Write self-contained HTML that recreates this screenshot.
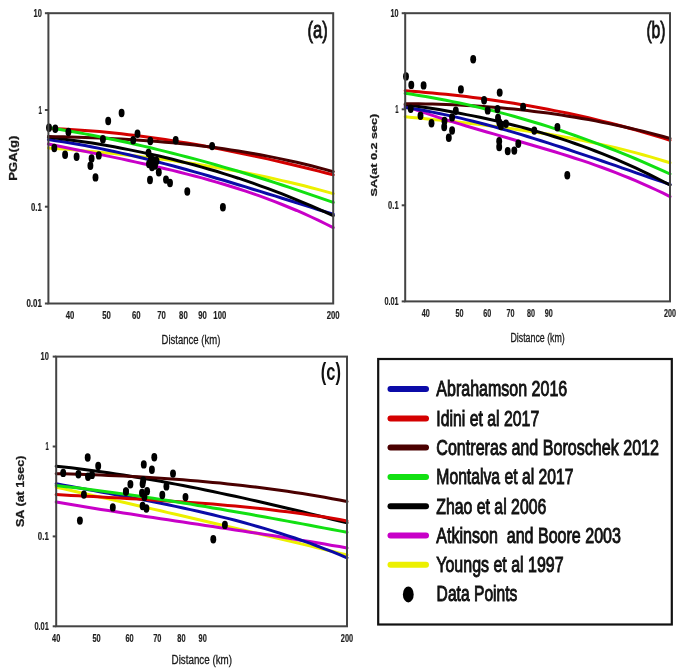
<!DOCTYPE html>
<html><head><meta charset="utf-8"><style>
html,body{margin:0;padding:0;background:#fff;width:685px;height:672px;overflow:hidden;font-family:"Liberation Sans", sans-serif;}
</style></head><body>
<svg width="685" height="672" viewBox="0 0 685 672" style="position:absolute;left:0;top:0;filter:blur(0.4px)" font-family='"Liberation Sans", sans-serif'>
<rect width="685" height="672" fill="#ffffff"/>
<g stroke="#eaf4f6" stroke-width="1" fill="none" opacity="0.9">
</g>
<g fill="none" stroke-width="3" stroke-linecap="round">
<path d="M48.4,148.0 L55.7,148.5 L63.0,149.1 L70.3,149.6 L77.6,150.2 L84.9,150.9 L92.2,151.5 L99.5,152.2 L106.8,152.9 L114.1,153.6 L121.4,154.4 L128.7,155.2 L136.0,156.0 L143.3,156.9 L150.6,157.7 L157.9,158.7 L165.2,159.6 L172.5,160.6 L179.8,161.7 L187.1,162.7 L194.5,163.8 L201.8,165.0 L209.1,166.2 L216.4,167.4 L223.7,168.7 L231.0,170.0 L238.3,171.4 L245.6,172.8 L252.9,174.2 L260.2,175.7 L267.5,177.3 L274.8,178.9 L282.1,180.6 L289.4,182.3 L296.7,184.0 L304.0,185.8 L311.3,187.7 L318.6,189.6 L325.9,191.6 L333.2,193.6" stroke="#ecf000"/>
<path d="M48.4,144.0 L55.7,145.5 L63.0,147.0 L70.3,148.5 L77.6,150.0 L84.9,151.4 L92.2,152.9 L99.5,154.4 L106.8,155.9 L114.1,157.4 L121.4,158.9 L128.7,160.5 L136.0,162.1 L143.3,163.7 L150.6,165.3 L157.9,167.0 L165.2,168.7 L172.5,170.4 L179.8,172.2 L187.1,174.1 L194.5,176.0 L201.8,177.9 L209.1,180.0 L216.4,182.1 L223.7,184.2 L231.0,186.5 L238.3,188.8 L245.6,191.2 L252.9,193.6 L260.2,196.2 L267.5,198.9 L274.8,201.6 L282.1,204.5 L289.4,207.5 L296.7,210.5 L304.0,213.7 L311.3,217.0 L318.6,220.4 L325.9,224.0 L333.2,227.6" stroke="#c800c8"/>
<path d="M48.4,139.6 L55.7,140.7 L63.0,141.8 L70.3,143.0 L77.6,144.3 L84.9,145.6 L92.2,147.0 L99.5,148.4 L106.8,150.0 L114.1,151.5 L121.4,153.1 L128.7,154.8 L136.0,156.5 L143.3,158.3 L150.6,160.1 L157.9,162.0 L165.2,163.9 L172.5,165.8 L179.8,167.8 L187.1,169.8 L194.5,171.9 L201.8,173.9 L209.1,176.0 L216.4,178.2 L223.7,180.3 L231.0,182.5 L238.3,184.7 L245.6,186.9 L252.9,189.2 L260.2,191.4 L267.5,193.7 L274.8,195.9 L282.1,198.2 L289.4,200.5 L296.7,202.8 L304.0,205.1 L311.3,207.4 L318.6,209.7 L325.9,211.9 L333.2,214.2" stroke="#0b0ba8"/>
<path d="M48.4,137.1 L55.7,138.0 L63.0,138.9 L70.3,139.9 L77.6,140.9 L84.9,142.0 L92.2,143.1 L99.5,144.3 L106.8,145.5 L114.1,146.8 L121.4,148.2 L128.7,149.6 L136.0,151.1 L143.3,152.6 L150.6,154.2 L157.9,155.8 L165.2,157.5 L172.5,159.3 L179.8,161.2 L187.1,163.1 L194.5,165.0 L201.8,167.1 L209.1,169.2 L216.4,171.3 L223.7,173.6 L231.0,175.9 L238.3,178.2 L245.6,180.7 L252.9,183.2 L260.2,185.8 L267.5,188.4 L274.8,191.1 L282.1,193.9 L289.4,196.8 L296.7,199.8 L304.0,202.8 L311.3,205.9 L318.6,209.1 L325.9,212.3 L333.2,215.7" stroke="#000000"/>
<path d="M48.4,128.4 L55.7,128.7 L63.0,129.0 L70.3,129.4 L77.6,129.9 L84.9,130.4 L92.2,131.0 L99.5,131.6 L106.8,132.3 L114.1,133.1 L121.4,133.8 L128.7,134.7 L136.0,135.6 L143.3,136.5 L150.6,137.5 L157.9,138.5 L165.2,139.6 L172.5,140.7 L179.8,141.9 L187.1,143.1 L194.5,144.3 L201.8,145.6 L209.1,147.0 L216.4,148.3 L223.7,149.7 L231.0,151.2 L238.3,152.7 L245.6,154.2 L252.9,155.7 L260.2,157.3 L267.5,158.9 L274.8,160.6 L282.1,162.3 L289.4,164.0 L296.7,165.7 L304.0,167.5 L311.3,169.3 L318.6,171.1 L325.9,173.0 L333.2,174.9" stroke="#d40000"/>
<path d="M48.4,136.5 L55.7,136.7 L63.0,136.8 L70.3,137.0 L77.6,137.2 L84.9,137.5 L92.2,137.7 L99.5,138.0 L106.8,138.3 L114.1,138.7 L121.4,139.1 L128.7,139.5 L136.0,140.0 L143.3,140.5 L150.6,141.0 L157.9,141.6 L165.2,142.2 L172.5,142.8 L179.8,143.5 L187.1,144.3 L194.5,145.1 L201.8,145.9 L209.1,146.8 L216.4,147.8 L223.7,148.8 L231.0,149.9 L238.3,151.0 L245.6,152.2 L252.9,153.4 L260.2,154.7 L267.5,156.1 L274.8,157.6 L282.1,159.1 L289.4,160.7 L296.7,162.3 L304.0,164.0 L311.3,165.8 L318.6,167.7 L325.9,169.6 L333.2,171.7" stroke="#4a0000"/>
<path d="M48.4,127.6 L55.7,128.7 L63.0,130.0 L70.3,131.2 L77.6,132.5 L84.9,133.9 L92.2,135.3 L99.5,136.7 L106.8,138.2 L114.1,139.7 L121.4,141.2 L128.7,142.8 L136.0,144.5 L143.3,146.1 L150.6,147.8 L157.9,149.6 L165.2,151.4 L172.5,153.2 L179.8,155.1 L187.1,157.0 L194.5,158.9 L201.8,160.9 L209.1,162.9 L216.4,165.0 L223.7,167.1 L231.0,169.2 L238.3,171.3 L245.6,173.5 L252.9,175.8 L260.2,178.0 L267.5,180.3 L274.8,182.6 L282.1,185.0 L289.4,187.4 L296.7,189.8 L304.0,192.3 L311.3,194.8 L318.6,197.3 L325.9,199.8 L333.2,202.4" stroke="#12e012"/>
</g>
<g fill="#000">
<ellipse cx="49" cy="127.8" rx="2.95" ry="4.2"/>
<ellipse cx="55.3" cy="128.7" rx="2.95" ry="4.2"/>
<ellipse cx="68.4" cy="132" rx="2.95" ry="4.2"/>
<ellipse cx="54.3" cy="148" rx="2.95" ry="4.2"/>
<ellipse cx="65.1" cy="154.8" rx="2.95" ry="4.2"/>
<ellipse cx="76.6" cy="156.7" rx="2.95" ry="4.2"/>
<ellipse cx="91.6" cy="158.4" rx="2.95" ry="4.2"/>
<ellipse cx="90.4" cy="165.8" rx="2.95" ry="4.2"/>
<ellipse cx="98.8" cy="155.4" rx="2.95" ry="4.2"/>
<ellipse cx="95.5" cy="177.4" rx="2.95" ry="4.2"/>
<ellipse cx="102.9" cy="139.3" rx="2.95" ry="4.2"/>
<ellipse cx="108.2" cy="121" rx="2.95" ry="4.2"/>
<ellipse cx="121.6" cy="113" rx="2.95" ry="4.2"/>
<ellipse cx="133.2" cy="140.2" rx="2.95" ry="4.2"/>
<ellipse cx="137.5" cy="133.8" rx="2.95" ry="4.2"/>
<ellipse cx="150.3" cy="141" rx="2.95" ry="4.2"/>
<ellipse cx="175.7" cy="140.3" rx="2.95" ry="4.2"/>
<ellipse cx="148.5" cy="153" rx="2.95" ry="4.2"/>
<ellipse cx="151" cy="158" rx="2.95" ry="4.2"/>
<ellipse cx="149" cy="164" rx="2.95" ry="4.2"/>
<ellipse cx="153" cy="160.5" rx="2.95" ry="4.2"/>
<ellipse cx="156.5" cy="161" rx="2.95" ry="4.2"/>
<ellipse cx="152" cy="167" rx="2.95" ry="4.2"/>
<ellipse cx="155" cy="165.5" rx="2.95" ry="4.2"/>
<ellipse cx="158.8" cy="172.2" rx="2.95" ry="4.2"/>
<ellipse cx="150" cy="180" rx="2.95" ry="4.2"/>
<ellipse cx="166" cy="179.6" rx="2.95" ry="4.2"/>
<ellipse cx="170" cy="183" rx="2.95" ry="4.2"/>
<ellipse cx="187.3" cy="191.5" rx="2.95" ry="4.2"/>
<ellipse cx="212.1" cy="146.1" rx="2.95" ry="4.2"/>
<ellipse cx="222.9" cy="207.2" rx="2.95" ry="4.2"/>
</g>
<rect x="48.4" y="13.2" width="284.8" height="290.3" fill="none" stroke="#444" stroke-width="2"/>
<line x1="44.9" y1="13.2" x2="48.4" y2="13.2" stroke="#444" stroke-width="2"/>
<line x1="44.9" y1="110.0" x2="48.4" y2="110.0" stroke="#444" stroke-width="2"/>
<line x1="44.9" y1="206.7" x2="48.4" y2="206.7" stroke="#444" stroke-width="2"/>
<line x1="44.9" y1="303.5" x2="48.4" y2="303.5" stroke="#444" stroke-width="2"/>
<g fill="none" stroke-width="3" stroke-linecap="round">
<path d="M405.2,116.7 L412.0,117.4 L418.8,118.1 L425.6,118.7 L432.4,119.4 L439.1,120.1 L445.9,120.8 L452.7,121.5 L459.5,122.3 L466.3,123.0 L473.1,123.8 L479.9,124.6 L486.7,125.4 L493.5,126.2 L500.3,127.1 L507.0,128.0 L513.8,128.9 L520.6,129.9 L527.4,130.9 L534.2,131.9 L541.0,133.0 L547.8,134.1 L554.6,135.2 L561.4,136.4 L568.2,137.7 L574.9,139.0 L581.7,140.3 L588.5,141.7 L595.3,143.1 L602.1,144.6 L608.9,146.1 L615.7,147.7 L622.5,149.4 L629.3,151.1 L636.1,152.9 L642.8,154.7 L649.6,156.6 L656.4,158.6 L663.2,160.7 L670.0,162.8" stroke="#ecf000"/>
<path d="M405.2,106.0 L412.0,108.4 L418.8,110.8 L425.6,113.1 L432.4,115.4 L439.1,117.6 L445.9,119.8 L452.7,121.9 L459.5,123.9 L466.3,126.0 L473.1,128.0 L479.9,130.0 L486.7,132.0 L493.5,133.9 L500.3,135.9 L507.0,137.8 L513.8,139.8 L520.6,141.7 L527.4,143.7 L534.2,145.7 L541.0,147.7 L547.8,149.7 L554.6,151.8 L561.4,153.9 L568.2,156.0 L574.9,158.2 L581.7,160.4 L588.5,162.7 L595.3,165.1 L602.1,167.5 L608.9,170.0 L615.7,172.6 L622.5,175.3 L629.3,178.0 L636.1,180.8 L642.8,183.8 L649.6,186.8 L656.4,190.0 L663.2,193.2 L670.0,196.6" stroke="#c800c8"/>
<path d="M405.2,107.4 L412.0,108.4 L418.8,109.6 L425.6,110.8 L432.4,112.1 L439.1,113.5 L445.9,114.9 L452.7,116.4 L459.5,117.9 L466.3,119.6 L473.1,121.2 L479.9,123.0 L486.7,124.8 L493.5,126.6 L500.3,128.5 L507.0,130.4 L513.8,132.4 L520.6,134.4 L527.4,136.5 L534.2,138.6 L541.0,140.7 L547.8,142.9 L554.6,145.1 L561.4,147.3 L568.2,149.5 L574.9,151.8 L581.7,154.1 L588.5,156.4 L595.3,158.7 L602.1,161.0 L608.9,163.4 L615.7,165.7 L622.5,168.1 L629.3,170.4 L636.1,172.8 L642.8,175.1 L649.6,177.5 L656.4,179.8 L663.2,182.1 L670.0,184.5" stroke="#0b0ba8"/>
<path d="M405.2,104.5 L412.0,105.5 L418.8,106.4 L425.6,107.5 L432.4,108.5 L439.1,109.6 L445.9,110.8 L452.7,112.0 L459.5,113.3 L466.3,114.6 L473.1,115.9 L479.9,117.3 L486.7,118.8 L493.5,120.3 L500.3,121.9 L507.0,123.5 L513.8,125.2 L520.6,126.9 L527.4,128.8 L534.2,130.7 L541.0,132.6 L547.8,134.6 L554.6,136.8 L561.4,138.9 L568.2,141.2 L574.9,143.5 L581.7,145.9 L588.5,148.4 L595.3,151.0 L602.1,153.6 L608.9,156.3 L615.7,159.2 L622.5,162.1 L629.3,165.1 L636.1,168.2 L642.8,171.3 L649.6,174.6 L656.4,178.0 L663.2,181.5 L670.0,185.0" stroke="#000000"/>
<path d="M405.2,90.7 L412.0,91.3 L418.8,91.8 L425.6,92.4 L432.4,93.0 L439.1,93.7 L445.9,94.3 L452.7,95.1 L459.5,95.8 L466.3,96.6 L473.1,97.4 L479.9,98.3 L486.7,99.2 L493.5,100.2 L500.3,101.2 L507.0,102.2 L513.8,103.3 L520.6,104.4 L527.4,105.5 L534.2,106.7 L541.0,107.9 L547.8,109.2 L554.6,110.6 L561.4,111.9 L568.2,113.3 L574.9,114.8 L581.7,116.3 L588.5,117.8 L595.3,119.4 L602.1,121.1 L608.9,122.8 L615.7,124.5 L622.5,126.3 L629.3,128.2 L636.1,130.0 L642.8,132.0 L649.6,134.0 L656.4,136.0 L663.2,138.1 L670.0,140.3" stroke="#d40000"/>
<path d="M405.2,103.7 L412.0,103.7 L418.8,103.8 L425.6,103.9 L432.4,104.0 L439.1,104.2 L445.9,104.4 L452.7,104.7 L459.5,105.0 L466.3,105.4 L473.1,105.8 L479.9,106.2 L486.7,106.7 L493.5,107.2 L500.3,107.8 L507.0,108.4 L513.8,109.1 L520.6,109.8 L527.4,110.6 L534.2,111.4 L541.0,112.2 L547.8,113.1 L554.6,114.1 L561.4,115.1 L568.2,116.2 L574.9,117.3 L581.7,118.4 L588.5,119.6 L595.3,120.9 L602.1,122.2 L608.9,123.6 L615.7,125.0 L622.5,126.5 L629.3,128.0 L636.1,129.6 L642.8,131.2 L649.6,132.9 L656.4,134.7 L663.2,136.5 L670.0,138.4" stroke="#4a0000"/>
<path d="M405.2,93.3 L412.0,94.3 L418.8,95.4 L425.6,96.5 L432.4,97.7 L439.1,98.9 L445.9,100.2 L452.7,101.6 L459.5,103.0 L466.3,104.4 L473.1,106.0 L479.9,107.6 L486.7,109.2 L493.5,110.9 L500.3,112.6 L507.0,114.4 L513.8,116.3 L520.6,118.2 L527.4,120.2 L534.2,122.2 L541.0,124.3 L547.8,126.4 L554.6,128.6 L561.4,130.8 L568.2,133.1 L574.9,135.5 L581.7,137.9 L588.5,140.3 L595.3,142.8 L602.1,145.4 L608.9,148.0 L615.7,150.7 L622.5,153.4 L629.3,156.2 L636.1,159.0 L642.8,161.9 L649.6,164.9 L656.4,167.9 L663.2,170.9 L670.0,174.0" stroke="#12e012"/>
</g>
<g fill="#000">
<ellipse cx="406" cy="76.4" rx="2.95" ry="4.2"/>
<ellipse cx="411.3" cy="84.9" rx="2.95" ry="4.2"/>
<ellipse cx="423.6" cy="85.4" rx="2.95" ry="4.2"/>
<ellipse cx="473.2" cy="59.2" rx="2.95" ry="4.2"/>
<ellipse cx="460.9" cy="89.4" rx="2.95" ry="4.2"/>
<ellipse cx="410.7" cy="108.7" rx="2.95" ry="4.2"/>
<ellipse cx="420.5" cy="115.8" rx="2.95" ry="4.2"/>
<ellipse cx="431.5" cy="123.2" rx="2.95" ry="4.2"/>
<ellipse cx="444.5" cy="121" rx="2.95" ry="4.2"/>
<ellipse cx="444.2" cy="127" rx="2.95" ry="4.2"/>
<ellipse cx="448.8" cy="137.8" rx="2.95" ry="4.2"/>
<ellipse cx="452.1" cy="130.5" rx="2.95" ry="4.2"/>
<ellipse cx="452.1" cy="117.4" rx="2.95" ry="4.2"/>
<ellipse cx="455.8" cy="110.7" rx="2.95" ry="4.2"/>
<ellipse cx="484.1" cy="100.2" rx="2.95" ry="4.2"/>
<ellipse cx="487.7" cy="110.4" rx="2.95" ry="4.2"/>
<ellipse cx="497.5" cy="109.1" rx="2.95" ry="4.2"/>
<ellipse cx="498" cy="118" rx="2.95" ry="4.2"/>
<ellipse cx="499.3" cy="122.5" rx="2.95" ry="4.2"/>
<ellipse cx="501" cy="126" rx="2.95" ry="4.2"/>
<ellipse cx="506" cy="123.8" rx="2.95" ry="4.2"/>
<ellipse cx="499.7" cy="92.6" rx="2.95" ry="4.2"/>
<ellipse cx="499.2" cy="141.2" rx="2.95" ry="4.2"/>
<ellipse cx="499.2" cy="147" rx="2.95" ry="4.2"/>
<ellipse cx="507.7" cy="151.1" rx="2.95" ry="4.2"/>
<ellipse cx="514.3" cy="150.6" rx="2.95" ry="4.2"/>
<ellipse cx="518.3" cy="143.7" rx="2.95" ry="4.2"/>
<ellipse cx="523.1" cy="106.9" rx="2.95" ry="4.2"/>
<ellipse cx="534.3" cy="130.6" rx="2.95" ry="4.2"/>
<ellipse cx="557.4" cy="127.2" rx="2.95" ry="4.2"/>
<ellipse cx="567.3" cy="175.2" rx="2.95" ry="4.2"/>
</g>
<rect x="405.2" y="13.2" width="264.8" height="288.2" fill="none" stroke="#444" stroke-width="2"/>
<line x1="401.7" y1="13.2" x2="405.2" y2="13.2" stroke="#444" stroke-width="2"/>
<line x1="401.7" y1="109.3" x2="405.2" y2="109.3" stroke="#444" stroke-width="2"/>
<line x1="401.7" y1="205.3" x2="405.2" y2="205.3" stroke="#444" stroke-width="2"/>
<line x1="401.7" y1="301.4" x2="405.2" y2="301.4" stroke="#444" stroke-width="2"/>
<g fill="none" stroke-width="3" stroke-linecap="round">
<path d="M56.2,487.2 L63.7,488.9 L71.1,490.5 L78.6,492.2 L86.0,493.9 L93.5,495.6 L100.9,497.2 L108.4,498.9 L115.9,500.6 L123.3,502.3 L130.8,504.0 L138.2,505.7 L145.7,507.4 L153.1,509.1 L160.6,510.8 L168.0,512.6 L175.5,514.3 L183.0,516.0 L190.4,517.7 L197.9,519.5 L205.3,521.2 L212.8,523.0 L220.2,524.7 L227.7,526.4 L235.2,528.2 L242.6,530.0 L250.1,531.7 L257.5,533.5 L265.0,535.2 L272.4,537.0 L279.9,538.8 L287.3,540.6 L294.8,542.3 L302.3,544.1 L309.7,545.9 L317.2,547.7 L324.6,549.5 L332.1,551.3 L339.5,553.1 L347.0,554.9" stroke="#ecf000"/>
<path d="M56.2,501.9 L63.7,503.2 L71.1,504.5 L78.6,505.7 L86.0,507.0 L93.5,508.2 L100.9,509.4 L108.4,510.6 L115.9,511.8 L123.3,513.0 L130.8,514.1 L138.2,515.3 L145.7,516.4 L153.1,517.6 L160.6,518.7 L168.0,519.8 L175.5,521.0 L183.0,522.1 L190.4,523.2 L197.9,524.3 L205.3,525.4 L212.8,526.5 L220.2,527.7 L227.7,528.8 L235.2,529.9 L242.6,531.0 L250.1,532.2 L257.5,533.3 L265.0,534.5 L272.4,535.6 L279.9,536.8 L287.3,538.0 L294.8,539.2 L302.3,540.4 L309.7,541.6 L317.2,542.8 L324.6,544.1 L332.1,545.4 L339.5,546.6 L347.0,548.0" stroke="#c800c8"/>
<path d="M56.2,483.8 L63.7,485.2 L71.1,486.5 L78.6,487.9 L86.0,489.2 L93.5,490.6 L100.9,492.0 L108.4,493.3 L115.9,494.7 L123.3,496.1 L130.8,497.5 L138.2,498.9 L145.7,500.4 L153.1,501.8 L160.6,503.3 L168.0,504.8 L175.5,506.4 L183.0,508.0 L190.4,509.6 L197.9,511.3 L205.3,513.0 L212.8,514.8 L220.2,516.6 L227.7,518.4 L235.2,520.3 L242.6,522.3 L250.1,524.4 L257.5,526.5 L265.0,528.6 L272.4,530.9 L279.9,533.2 L287.3,535.6 L294.8,538.0 L302.3,540.6 L309.7,543.2 L317.2,546.0 L324.6,548.8 L332.1,551.7 L339.5,554.7 L347.0,557.8" stroke="#0b0ba8"/>
<path d="M56.2,466.2 L63.7,467.0 L71.1,467.8 L78.6,468.7 L86.0,469.7 L93.5,470.7 L100.9,471.7 L108.4,472.8 L115.9,473.9 L123.3,475.0 L130.8,476.2 L138.2,477.4 L145.7,478.7 L153.1,480.0 L160.6,481.3 L168.0,482.7 L175.5,484.1 L183.0,485.5 L190.4,487.0 L197.9,488.4 L205.3,490.0 L212.8,491.5 L220.2,493.1 L227.7,494.7 L235.2,496.3 L242.6,497.9 L250.1,499.6 L257.5,501.3 L265.0,503.0 L272.4,504.7 L279.9,506.5 L287.3,508.2 L294.8,510.0 L302.3,511.8 L309.7,513.6 L317.2,515.5 L324.6,517.3 L332.1,519.2 L339.5,521.0 L347.0,522.9" stroke="#000000"/>
<path d="M56.2,494.6 L63.7,495.0 L71.1,495.4 L78.6,495.8 L86.0,496.2 L93.5,496.6 L100.9,497.0 L108.4,497.4 L115.9,497.8 L123.3,498.3 L130.8,498.7 L138.2,499.1 L145.7,499.5 L153.1,500.0 L160.6,500.4 L168.0,500.9 L175.5,501.4 L183.0,501.9 L190.4,502.4 L197.9,503.0 L205.3,503.5 L212.8,504.1 L220.2,504.8 L227.7,505.4 L235.2,506.1 L242.6,506.8 L250.1,507.5 L257.5,508.3 L265.0,509.1 L272.4,510.0 L279.9,510.9 L287.3,511.8 L294.8,512.8 L302.3,513.8 L309.7,514.9 L317.2,516.0 L324.6,517.1 L332.1,518.3 L339.5,519.6 L347.0,520.9" stroke="#d40000"/>
<path d="M56.2,473.7 L63.7,473.8 L71.1,474.0 L78.6,474.3 L86.0,474.5 L93.5,474.8 L100.9,475.1 L108.4,475.4 L115.9,475.7 L123.3,476.0 L130.8,476.4 L138.2,476.8 L145.7,477.2 L153.1,477.7 L160.6,478.2 L168.0,478.7 L175.5,479.2 L183.0,479.8 L190.4,480.4 L197.9,481.0 L205.3,481.7 L212.8,482.4 L220.2,483.1 L227.7,483.9 L235.2,484.7 L242.6,485.5 L250.1,486.4 L257.5,487.3 L265.0,488.2 L272.4,489.2 L279.9,490.3 L287.3,491.3 L294.8,492.4 L302.3,493.6 L309.7,494.8 L317.2,496.0 L324.6,497.3 L332.1,498.7 L339.5,500.0 L347.0,501.5" stroke="#4a0000"/>
<path d="M56.2,485.6 L63.7,486.4 L71.1,487.3 L78.6,488.1 L86.0,489.0 L93.5,490.0 L100.9,490.9 L108.4,491.9 L115.9,492.9 L123.3,493.9 L130.8,495.0 L138.2,496.1 L145.7,497.2 L153.1,498.3 L160.6,499.4 L168.0,500.6 L175.5,501.7 L183.0,502.9 L190.4,504.1 L197.9,505.4 L205.3,506.6 L212.8,507.9 L220.2,509.1 L227.7,510.4 L235.2,511.7 L242.6,513.0 L250.1,514.3 L257.5,515.7 L265.0,517.0 L272.4,518.4 L279.9,519.7 L287.3,521.1 L294.8,522.5 L302.3,523.9 L309.7,525.3 L317.2,526.7 L324.6,528.1 L332.1,529.5 L339.5,530.9 L347.0,532.3" stroke="#12e012"/>
</g>
<g fill="#000">
<ellipse cx="63.2" cy="472.9" rx="2.95" ry="4.2"/>
<ellipse cx="78.4" cy="474.3" rx="2.95" ry="4.2"/>
<ellipse cx="87.7" cy="457.5" rx="2.95" ry="4.2"/>
<ellipse cx="88" cy="476.7" rx="2.95" ry="4.2"/>
<ellipse cx="92" cy="474.9" rx="2.95" ry="4.2"/>
<ellipse cx="98.2" cy="466" rx="2.95" ry="4.2"/>
<ellipse cx="83.9" cy="494.6" rx="2.95" ry="4.2"/>
<ellipse cx="79.9" cy="520.6" rx="2.95" ry="4.2"/>
<ellipse cx="112.8" cy="507.4" rx="2.95" ry="4.2"/>
<ellipse cx="125.9" cy="491.6" rx="2.95" ry="4.2"/>
<ellipse cx="130.4" cy="484.2" rx="2.95" ry="4.2"/>
<ellipse cx="143.8" cy="464.4" rx="2.95" ry="4.2"/>
<ellipse cx="154.3" cy="457.3" rx="2.95" ry="4.2"/>
<ellipse cx="151.9" cy="469.8" rx="2.95" ry="4.2"/>
<ellipse cx="173" cy="473.6" rx="2.95" ry="4.2"/>
<ellipse cx="143.2" cy="480.5" rx="2.95" ry="4.2"/>
<ellipse cx="142.6" cy="484" rx="2.95" ry="4.2"/>
<ellipse cx="166.4" cy="486.4" rx="2.95" ry="4.2"/>
<ellipse cx="126" cy="491.4" rx="2.95" ry="4.2"/>
<ellipse cx="142" cy="493" rx="2.95" ry="4.2"/>
<ellipse cx="147.1" cy="491.2" rx="2.95" ry="4.2"/>
<ellipse cx="144.4" cy="497.1" rx="2.95" ry="4.2"/>
<ellipse cx="162.3" cy="495" rx="2.95" ry="4.2"/>
<ellipse cx="185.5" cy="497.1" rx="2.95" ry="4.2"/>
<ellipse cx="142.6" cy="506" rx="2.95" ry="4.2"/>
<ellipse cx="146.4" cy="508.5" rx="2.95" ry="4.2"/>
<ellipse cx="213.3" cy="539.2" rx="2.95" ry="4.2"/>
<ellipse cx="224.9" cy="524.9" rx="2.95" ry="4.2"/>
</g>
<rect x="56.2" y="356.6" width="290.8" height="269.7" fill="none" stroke="#444" stroke-width="2"/>
<line x1="52.7" y1="356.6" x2="56.2" y2="356.6" stroke="#444" stroke-width="2"/>
<line x1="52.7" y1="446.5" x2="56.2" y2="446.5" stroke="#444" stroke-width="2"/>
<line x1="52.7" y1="536.4" x2="56.2" y2="536.4" stroke="#444" stroke-width="2"/>
<line x1="52.7" y1="626.3" x2="56.2" y2="626.3" stroke="#444" stroke-width="2"/>
<text x="41.8" y="17.0" font-size="10.5" font-weight="bold" fill="#1e1e1e" text-anchor="end" textLength="8.3" lengthAdjust="spacingAndGlyphs" stroke="#1e1e1e" stroke-width="0.2">10</text>
<text x="41.8" y="113.7" font-size="10.5" font-weight="bold" fill="#1e1e1e" text-anchor="end" textLength="3.4" lengthAdjust="spacingAndGlyphs" stroke="#1e1e1e" stroke-width="0.2">1</text>
<text x="41.8" y="210.5" font-size="10.5" font-weight="bold" fill="#1e1e1e" text-anchor="end" textLength="10.8" lengthAdjust="spacingAndGlyphs" stroke="#1e1e1e" stroke-width="0.2">0.1</text>
<text x="41.8" y="307.3" font-size="10.5" font-weight="bold" fill="#1e1e1e" text-anchor="end" textLength="15.4" lengthAdjust="spacingAndGlyphs" stroke="#1e1e1e" stroke-width="0.2">0.01</text>
<text x="398.6" y="17.0" font-size="10.5" font-weight="bold" fill="#1e1e1e" text-anchor="end" textLength="8.0" lengthAdjust="spacingAndGlyphs" stroke="#1e1e1e" stroke-width="0.2">10</text>
<text x="398.6" y="113.0" font-size="10.5" font-weight="bold" fill="#1e1e1e" text-anchor="end" textLength="3.3" lengthAdjust="spacingAndGlyphs" stroke="#1e1e1e" stroke-width="0.2">1</text>
<text x="398.6" y="209.1" font-size="10.5" font-weight="bold" fill="#1e1e1e" text-anchor="end" textLength="10.5" lengthAdjust="spacingAndGlyphs" stroke="#1e1e1e" stroke-width="0.2">0.1</text>
<text x="398.6" y="305.2" font-size="10.5" font-weight="bold" fill="#1e1e1e" text-anchor="end" textLength="14.2" lengthAdjust="spacingAndGlyphs" stroke="#1e1e1e" stroke-width="0.2">0.01</text>
<text x="48.8" y="360.3" font-size="10.3" font-weight="bold" fill="#1e1e1e" text-anchor="end" textLength="8.3" lengthAdjust="spacingAndGlyphs" stroke="#1e1e1e" stroke-width="0.2">10</text>
<text x="48.8" y="450.2" font-size="10.3" font-weight="bold" fill="#1e1e1e" text-anchor="end" textLength="3.3" lengthAdjust="spacingAndGlyphs" stroke="#1e1e1e" stroke-width="0.2">1</text>
<text x="48.8" y="540.1" font-size="10.3" font-weight="bold" fill="#1e1e1e" text-anchor="end" textLength="11.0" lengthAdjust="spacingAndGlyphs" stroke="#1e1e1e" stroke-width="0.2">0.1</text>
<text x="48.8" y="630.0" font-size="10.3" font-weight="bold" fill="#1e1e1e" text-anchor="end" textLength="14.4" lengthAdjust="spacingAndGlyphs" stroke="#1e1e1e" stroke-width="0.2">0.01</text>
<text x="70.0" y="319.2" font-size="10.5" font-weight="bold" fill="#1e1e1e" text-anchor="middle" textLength="8.6" lengthAdjust="spacingAndGlyphs" stroke="#1e1e1e" stroke-width="0.2">40</text>
<text x="106.5" y="319.2" font-size="10.5" font-weight="bold" fill="#1e1e1e" text-anchor="middle" textLength="8.6" lengthAdjust="spacingAndGlyphs" stroke="#1e1e1e" stroke-width="0.2">50</text>
<text x="136.3" y="319.2" font-size="10.5" font-weight="bold" fill="#1e1e1e" text-anchor="middle" textLength="8.6" lengthAdjust="spacingAndGlyphs" stroke="#1e1e1e" stroke-width="0.2">60</text>
<text x="161.5" y="319.2" font-size="10.5" font-weight="bold" fill="#1e1e1e" text-anchor="middle" textLength="8.6" lengthAdjust="spacingAndGlyphs" stroke="#1e1e1e" stroke-width="0.2">70</text>
<text x="183.4" y="319.2" font-size="10.5" font-weight="bold" fill="#1e1e1e" text-anchor="middle" textLength="8.6" lengthAdjust="spacingAndGlyphs" stroke="#1e1e1e" stroke-width="0.2">80</text>
<text x="202.6" y="319.2" font-size="10.5" font-weight="bold" fill="#1e1e1e" text-anchor="middle" textLength="8.6" lengthAdjust="spacingAndGlyphs" stroke="#1e1e1e" stroke-width="0.2">90</text>
<text x="219.8" y="319.2" font-size="10.5" font-weight="bold" fill="#1e1e1e" text-anchor="middle" textLength="12.9" lengthAdjust="spacingAndGlyphs" stroke="#1e1e1e" stroke-width="0.2">100</text>
<text x="333.2" y="319.2" font-size="10.5" font-weight="bold" fill="#1e1e1e" text-anchor="middle" textLength="12.9" lengthAdjust="spacingAndGlyphs" stroke="#1e1e1e" stroke-width="0.2">200</text>
<text x="425.7" y="317.4" font-size="10.5" font-weight="bold" fill="#1e1e1e" text-anchor="middle" textLength="8.0" lengthAdjust="spacingAndGlyphs" stroke="#1e1e1e" stroke-width="0.2">40</text>
<text x="459.6" y="317.4" font-size="10.5" font-weight="bold" fill="#1e1e1e" text-anchor="middle" textLength="8.0" lengthAdjust="spacingAndGlyphs" stroke="#1e1e1e" stroke-width="0.2">50</text>
<text x="487.2" y="317.4" font-size="10.5" font-weight="bold" fill="#1e1e1e" text-anchor="middle" textLength="8.0" lengthAdjust="spacingAndGlyphs" stroke="#1e1e1e" stroke-width="0.2">60</text>
<text x="510.6" y="317.4" font-size="10.5" font-weight="bold" fill="#1e1e1e" text-anchor="middle" textLength="8.0" lengthAdjust="spacingAndGlyphs" stroke="#1e1e1e" stroke-width="0.2">70</text>
<text x="530.9" y="317.4" font-size="10.5" font-weight="bold" fill="#1e1e1e" text-anchor="middle" textLength="8.0" lengthAdjust="spacingAndGlyphs" stroke="#1e1e1e" stroke-width="0.2">80</text>
<text x="548.8" y="317.4" font-size="10.5" font-weight="bold" fill="#1e1e1e" text-anchor="middle" textLength="8.0" lengthAdjust="spacingAndGlyphs" stroke="#1e1e1e" stroke-width="0.2">90</text>
<text x="670.0" y="317.4" font-size="10.5" font-weight="bold" fill="#1e1e1e" text-anchor="middle" textLength="12.0" lengthAdjust="spacingAndGlyphs" stroke="#1e1e1e" stroke-width="0.2">200</text>
<text x="56.2" y="641.6" font-size="10" font-weight="bold" fill="#1e1e1e" text-anchor="middle" textLength="8.2" lengthAdjust="spacingAndGlyphs" stroke="#1e1e1e" stroke-width="0.2">40</text>
<text x="96.5" y="641.6" font-size="10" font-weight="bold" fill="#1e1e1e" text-anchor="middle" textLength="8.2" lengthAdjust="spacingAndGlyphs" stroke="#1e1e1e" stroke-width="0.2">50</text>
<text x="129.5" y="641.6" font-size="10" font-weight="bold" fill="#1e1e1e" text-anchor="middle" textLength="8.2" lengthAdjust="spacingAndGlyphs" stroke="#1e1e1e" stroke-width="0.2">60</text>
<text x="157.3" y="641.6" font-size="10" font-weight="bold" fill="#1e1e1e" text-anchor="middle" textLength="8.2" lengthAdjust="spacingAndGlyphs" stroke="#1e1e1e" stroke-width="0.2">70</text>
<text x="181.4" y="641.6" font-size="10" font-weight="bold" fill="#1e1e1e" text-anchor="middle" textLength="8.2" lengthAdjust="spacingAndGlyphs" stroke="#1e1e1e" stroke-width="0.2">80</text>
<text x="202.7" y="641.6" font-size="10" font-weight="bold" fill="#1e1e1e" text-anchor="middle" textLength="8.2" lengthAdjust="spacingAndGlyphs" stroke="#1e1e1e" stroke-width="0.2">90</text>
<text x="347.0" y="641.6" font-size="10" font-weight="bold" fill="#1e1e1e" text-anchor="middle" textLength="12.3" lengthAdjust="spacingAndGlyphs" stroke="#1e1e1e" stroke-width="0.2">200</text>
<text x="161.6" y="344.2" font-size="12.5" font-weight="normal" fill="#1a1a1a" text-anchor="start" textLength="58.7" lengthAdjust="spacingAndGlyphs" stroke="#1a1a1a" stroke-width="0.3">Distance (km)</text>
<text x="510.4" y="341.9" font-size="12" font-weight="normal" fill="#1a1a1a" text-anchor="start" textLength="54.4" lengthAdjust="spacingAndGlyphs" stroke="#1a1a1a" stroke-width="0.3">Distance (km)</text>
<text x="171.6" y="664.4" font-size="12" font-weight="normal" fill="#1a1a1a" text-anchor="start" textLength="60.4" lengthAdjust="spacingAndGlyphs" stroke="#1a1a1a" stroke-width="0.3">Distance (km)</text>
<text x="17.0" y="180.7" font-size="10.6" font-weight="bold" fill="#1a1a1a" text-anchor="start" textLength="45.0" lengthAdjust="spacingAndGlyphs" transform="rotate(-90 17.0 180.7)" stroke="#1a1a1a" stroke-width="0.25">PGA(g)</text>
<text x="377.0" y="196.4" font-size="8.8" font-weight="bold" fill="#1a1a1a" text-anchor="start" textLength="82.5" lengthAdjust="spacingAndGlyphs" transform="rotate(-90 377.0 196.4)" stroke="#1a1a1a" stroke-width="0.25">SA(at 0.2 sec)</text>
<text x="24.0" y="527.0" font-size="10.2" font-weight="bold" fill="#1a1a1a" text-anchor="start" textLength="71.4" lengthAdjust="spacingAndGlyphs" transform="rotate(-90 24.0 527.0)" stroke="#1a1a1a" stroke-width="0.25">SA (at 1sec)</text>
<text x="307.6" y="38.2" font-size="24" font-weight="normal" fill="#111" text-anchor="start" textLength="20.2" lengthAdjust="spacingAndGlyphs" stroke="#111" stroke-width="0.9">(a)</text>
<text x="646.4" y="38.2" font-size="24" font-weight="normal" fill="#111" text-anchor="start" textLength="19.2" lengthAdjust="spacingAndGlyphs" stroke="#111" stroke-width="0.9">(b)</text>
<text x="320.8" y="379.9" font-size="23" font-weight="bold" fill="#111" text-anchor="start" textLength="20.1" lengthAdjust="spacingAndGlyphs" >(c)</text>
<rect x="378.2" y="359" width="293.6" height="265.5" fill="none" stroke="#111" stroke-width="2.2"/>
<line x1="390.5" y1="389.1" x2="426" y2="389.1" stroke="#0b0ba8" stroke-width="6" stroke-linecap="round"/>
<text x="436.3" y="396.4" font-size="22" font-weight="normal" fill="#111" text-anchor="start" textLength="130.9" lengthAdjust="spacingAndGlyphs" stroke="#111" stroke-width="0.95">Abrahamson 2016</text>
<line x1="390.5" y1="418.4" x2="426" y2="418.4" stroke="#d40000" stroke-width="6" stroke-linecap="round"/>
<text x="436.3" y="425.7" font-size="22" font-weight="normal" fill="#111" text-anchor="start" textLength="102.9" lengthAdjust="spacingAndGlyphs" stroke="#111" stroke-width="0.95">Idini et al 2017</text>
<line x1="390.5" y1="447.6" x2="426" y2="447.6" stroke="#4a0000" stroke-width="6" stroke-linecap="round"/>
<text x="436.3" y="454.9" font-size="22" font-weight="normal" fill="#111" text-anchor="start" textLength="222.7" lengthAdjust="spacingAndGlyphs" stroke="#111" stroke-width="0.95">Contreras and Boroschek 2012</text>
<line x1="390.5" y1="476.9" x2="426" y2="476.9" stroke="#12e012" stroke-width="6" stroke-linecap="round"/>
<text x="436.3" y="484.2" font-size="22" font-weight="normal" fill="#111" text-anchor="start" textLength="137.2" lengthAdjust="spacingAndGlyphs" stroke="#111" stroke-width="0.95">Montalva et al 2017</text>
<line x1="390.5" y1="506.2" x2="426" y2="506.2" stroke="#000000" stroke-width="6" stroke-linecap="round"/>
<text x="436.3" y="513.5" font-size="22" font-weight="normal" fill="#111" text-anchor="start" textLength="110.0" lengthAdjust="spacingAndGlyphs" stroke="#111" stroke-width="0.95">Zhao et al 2006</text>
<line x1="390.5" y1="535.5" x2="426" y2="535.5" stroke="#c800c8" stroke-width="6" stroke-linecap="round"/>
<text x="436.3" y="542.8" font-size="22" font-weight="normal" fill="#111" text-anchor="start" textLength="184.6" lengthAdjust="spacingAndGlyphs" stroke="#111" stroke-width="0.95">Atkinson&#160; and Boore 2003</text>
<line x1="390.5" y1="564.7" x2="426" y2="564.7" stroke="#ecf000" stroke-width="6" stroke-linecap="round"/>
<text x="436.3" y="572.0" font-size="22" font-weight="normal" fill="#111" text-anchor="start" textLength="127.3" lengthAdjust="spacingAndGlyphs" stroke="#111" stroke-width="0.95">Youngs et al 1997</text>
<ellipse cx="408.3" cy="594.4" rx="5.4" ry="8.0" fill="#000"/>
<text x="436.6" y="601.3" font-size="22" font-weight="normal" fill="#111" text-anchor="start" textLength="80.8" lengthAdjust="spacingAndGlyphs" stroke="#111" stroke-width="0.95">Data Points</text>
</svg>
</body></html>
